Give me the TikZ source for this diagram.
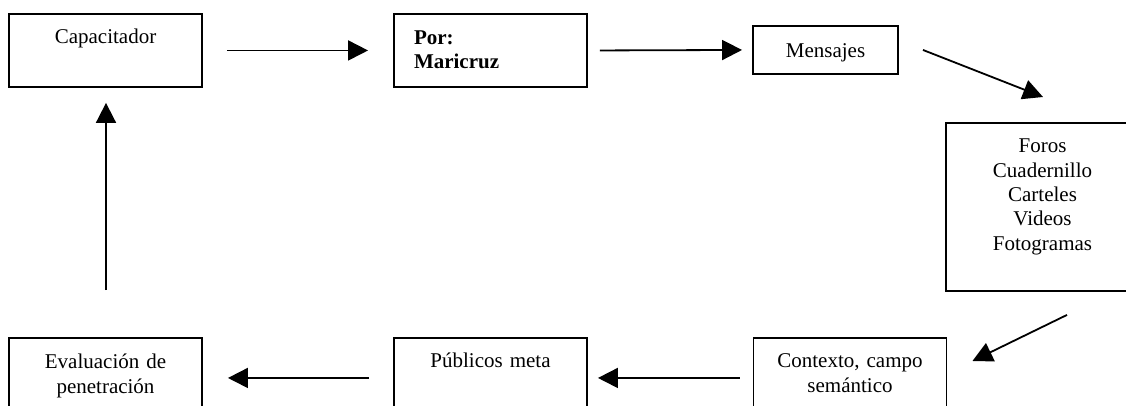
\documentclass[tikz,border=0pt]{standalone}
\usepackage{fontspec}
\setmainfont{Liberation Serif}
\usetikzlibrary{arrows.meta,calc}
\begin{document}
\begin{tikzpicture}[x=1pt,y=-1pt,
  box/.style={draw, line width=1.9pt, inner xsep=0pt, inner ysep=0pt, anchor=north,
    font=\fontsize{21}{24.3}\selectfont, align=center, text width=193pt, minimum width=193pt},
  arr/.style={line width=1.8pt, -{Triangle[length=20pt,width=20pt]}}]
\useasboundingbox (0,0) rectangle (1126,405);
\fill[white] (0,0) rectangle (1126,405);
% top row
\node[box, text height=30pt, text depth=43pt] (cap) at (105.5,13) {Capacitador};
\node[box, text height=31pt, text depth=42pt, text width=153pt, inner xsep=20pt, align=left,
  font=\fontsize{21}{24}\selectfont\bfseries] (por) at (490.5,13) {Por:\\Maricruz};
\node[box, text width=145pt, minimum width=145pt, text height=32pt, text depth=16pt] (men) at (825.5,25) {Mensajes};
\node[box, text height=30pt, text depth=138pt] (foros) at (1042.5,122)
  {Foros\\Cuadernillo\\Carteles\\Videos\\Fotogramas};
% bottom row
\node[box, text height=30pt, text depth=43pt] (ctx) at (850,337) {Contexto, campo\\semántico};
\node[box, text height=30pt, text depth=43pt] (pub) at (490.5,337) {Públicos meta};
\node[box, text height=31pt, text depth=42pt] (eva) at (105.5,337) {Evaluación de\\penetración};
% connectors
\draw[arr] ($(cap.east)+(24,0)$) -- ($(por.west)+(-25,0)$);
\draw[arr] ($(por.east)+(12,0)$) -- ($(men.west)+(-10,0)$);
\draw[arr] ($(men.east)+(24,0)$) -- ($(foros.north)+(0.5,-25)$);
\draw[arr] ($(foros.south)+(24.5,23)$) -- ($(ctx.north east)+(25,24)$);
\draw[arr] ($(ctx.west)+(-13,3.5)$) -- ($(pub.east)+(10,3.5)$);
\draw[arr] ($(pub.west)+(-24,3.5)$) -- ($(eva.east)+(25,3.5)$);
\draw[arr] ($(eva.north)+(0.5,-47)$) -- ($(cap.south)+(0.5,15)$);
\end{tikzpicture}
\end{document}
